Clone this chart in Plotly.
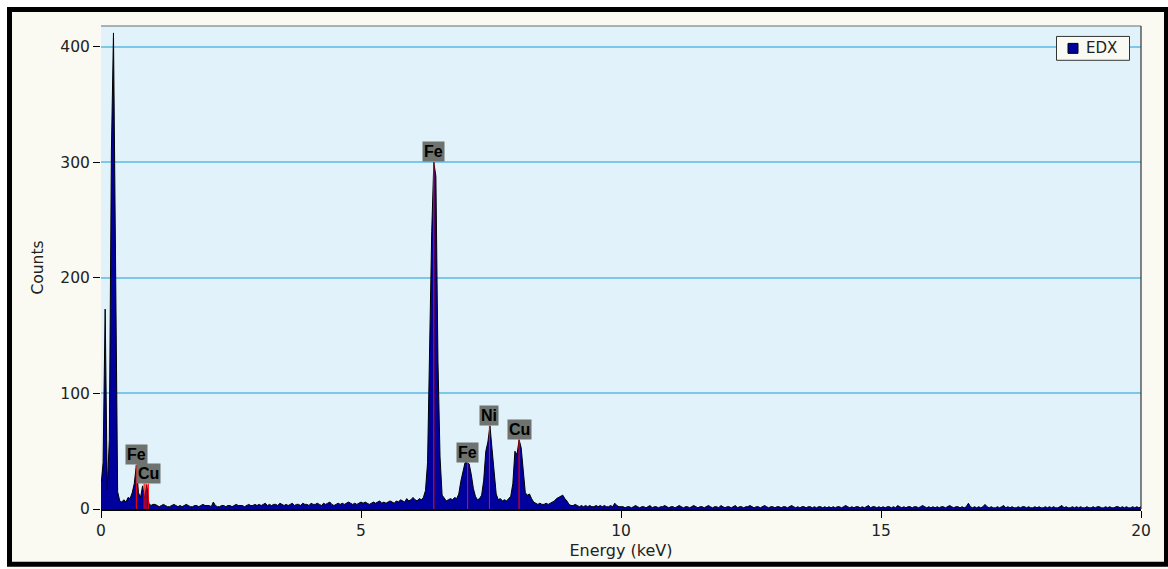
import numpy as np
import plotly.graph_objects as go

STEP = 0.04  # keV per channel

# counts, per energy segment
counts_0_1 = [20, 40, 173, 17, 60, 310, 412, 200, 15, 7, 6, 8, 6, 10, 9, 14, 22, 38, 14, 10,
              20, 9, 21, 5, 3, 4]  # 0.00 .. 1.00
counts_1_6 = [4, 3, 2, 3, 4, 3, 2, 2, 3, 4, 3, 2, 3, 2, 3, 4, 3, 2, 2, 3, 3, 2, 3, 4, 3,
              3, 3, 2, 6, 3, 2, 2, 3, 3, 2, 3, 3, 2, 3, 4, 3, 3, 3, 2, 3, 4, 3, 3, 4, 3,
              4, 3, 4, 5, 3, 4, 3, 4, 4, 3, 5, 4, 3, 4, 3, 4, 5, 3, 4, 4, 3, 5, 4, 4, 3,
              5, 4, 4, 5, 4, 3, 5, 4, 5, 6, 4, 3, 4, 5, 4, 5, 4, 5, 6, 5, 4, 5, 4, 5, 6,
              5, 6, 5, 4, 5, 6, 5, 6, 7, 5, 6, 5, 6, 7, 6, 5, 7, 6, 8, 7, 6, 9, 7, 8, 10]  # 1.04 .. 6.00
counts_6_9 = [8, 7, 9, 8, 10, 16, 40, 150, 240, 300, 288, 128, 45, 12, 9, 7, 8, 9, 8, 10,
              9, 13, 24, 33, 40, 40, 39, 30, 18, 11, 8, 9, 12, 25, 50, 58, 72, 52, 35, 13,
              8, 9, 7, 8, 7, 9, 11, 22, 50, 47, 60, 53, 32, 14, 12, 13, 9, 6, 5, 4,
              5, 4, 4, 5, 4, 5, 6, 7, 9, 10, 11, 12, 9, 7, 4, 3]  # 6.04 .. 9.04
counts_9_20 = [3, 4, 3, 2, 3, 2, 3, 2, 3, 2, 2, 3, 2, 3, 2, 3, 2, 2, 3, 2, 5, 3, 2, 2,
               2, 1, 2, 2, 1, 2, 3, 2, 1, 2, 2, 1, 2, 3, 1, 2, 2, 1, 2, 2, 3, 2, 1, 2, 2,
               1, 2, 3, 2, 1, 2, 2, 1, 2, 3, 2, 1, 2, 2, 1, 2, 3, 2, 1, 2, 2, 1, 3, 2, 1,
               2, 2, 1, 2, 3, 1, 2, 2, 1, 2, 2, 3, 2, 1, 2, 2, 1, 2, 3, 2, 1, 2, 2, 1, 2,
               2, 1, 2, 2, 1, 2, 3, 2, 1, 2, 1, 2, 2, 1, 2, 2, 1, 2, 1, 2, 2, 1, 2, 1, 2,
               1, 2, 1, 2, 2, 1, 2, 3, 2, 1, 2, 1, 2, 2, 1, 2, 1, 2, 3, 1, 2, 2, 1, 2, 1,
               2, 1, 2, 2, 1, 2, 1, 3, 2, 1, 2, 1, 2, 2, 1, 2, 2, 1, 2, 3, 2, 1, 2, 1, 2,
               1, 2, 1, 2, 2, 1, 2, 3, 2, 1, 2, 2, 1, 2, 1, 2, 5, 2, 1, 2, 1, 2, 1, 2, 4,
               2, 1, 2, 1, 1, 2, 1, 2, 3, 1, 2, 1, 2, 1, 1, 2, 1, 2, 2, 1, 2, 1, 1, 2, 1,
               2, 1, 1, 2, 1, 2, 1, 2, 1, 1, 2, 3, 1, 2, 1, 1, 2, 1, 2, 1, 2, 1, 1, 2, 1,
               1, 2, 1, 2, 2, 1, 1, 2, 1, 2, 1, 1, 2, 2, 1, 2, 1, 2, 1, 1, 2, 1, 2, 1, 2]  # 9.08 .. 20.00

segment_starts = [0.0, 1.04, 6.04, 9.08]
segments = [counts_0_1, counts_1_6, counts_6_9, counts_9_20]

# element marker lines and labels
line_energy = [0.68, 0.83, 0.865, 0.91, 6.40, 7.05, 7.47, 8.04]
line_height = [38, 22, 22, 22, 300, 40, 72, 60]
label_text = ["Fe", "Cu", "Fe", "Fe", "Ni", "Cu"]
label_energy = [0.68, 0.91, 6.40, 7.05, 7.47, 8.04]
label_height = [38, 22, 300, 40, 72, 60]

x_ticks = [0, 5, 10, 15, 20]
y_ticks = [0, 100, 200, 300, 400]
series_name = "EDX"

energy, counts = [], []
for s, c in zip(segment_starts, segments):
    energy.extend(np.round(s + STEP * np.arange(len(c)), 3).tolist())
    counts.extend(c)

FONT = "DejaVu Sans"
NAVY = "#00009C"
fig = go.Figure()
fig.add_trace(go.Scatter(x=energy, y=counts, mode="lines", fill="tozeroy", name=series_name,
                         fillcolor=NAVY, line=dict(color="black", width=1),
                         showlegend=False, hoverinfo="x+y"))

lx, ly = [], []
for e, h in zip(line_energy, line_height):
    lx += [e, e, None]
    ly += [0, h, None]
fig.add_trace(go.Scatter(x=lx, y=ly, mode="lines", line=dict(color="#FF0000", width=1.1),
                         showlegend=False, hoverinfo="skip"))

for t, e, h in zip(label_text, label_energy, label_height):
    fig.add_annotation(x=e, y=h, text="<b>%s</b>" % t, showarrow=False, yanchor="bottom",
                       xanchor="center", bgcolor="#6E7370", borderpad=1,
                       font=dict(family="Liberation Sans", size=16, color="black"))

W, H = 1168, 569
L, R, T, B = 101, 27, 26, 57
pw, ph = W - L - R, H - T - B

def px(x):
    return (x - L) / pw

def py(y):
    return (H - B - y) / ph

shapes = [
    dict(type="rect", xref="paper", yref="paper", x0=px(-5), x1=px(W + 5), y0=py(7), y1=py(-5),
         fillcolor="white", line=dict(width=0), layer="above"),
    dict(type="rect", xref="paper", yref="paper", x0=px(-5), x1=px(7), y0=py(H + 5), y1=py(-5),
         fillcolor="white", line=dict(width=0), layer="above"),
    dict(type="rect", xref="paper", yref="paper", x0=px(9.5), x1=px(1166.5), y0=py(567.5), y1=py(9.5),
         line=dict(color="black", width=5), layer="above"),
    dict(type="line", xref="paper", yref="paper", x0=0, x1=1, y0=1, y1=1,
         line=dict(color="#8C9CA4", width=1.5), layer="above"),
    dict(type="line", xref="paper", yref="paper", x0=1, x1=1, y0=0, y1=1,
         line=dict(color="#333333", width=1.2), layer="above"),
    # legend box and swatch
    dict(type="rect", xref="paper", yref="paper", x0=px(1056.5), x1=px(1129.5), y0=py(60.5), y1=py(36.5),
         fillcolor="#FAFAF5", line=dict(color="#333333", width=1), layer="above"),
    dict(type="rect", xref="paper", yref="paper", x0=px(1068), x1=px(1078), y0=py(53.5), y1=py(43.5),
         fillcolor=NAVY, line=dict(color="black", width=1), layer="above"),
]

fig.add_annotation(xref="paper", yref="paper", x=px(1084), y=py(48.5), text=series_name,
                   showarrow=False, xanchor="left", yanchor="middle",
                   font=dict(family=FONT, size=15, color="#222222"))

fig.update_layout(
    width=W, height=H,
    margin=dict(l=L, r=R, t=T, b=B),
    paper_bgcolor="#FAFAF2",
    plot_bgcolor="#E1F2FB",
    font=dict(family=FONT, size=15.5, color="#222222"),
    shapes=shapes,
    showlegend=False,
    xaxis=dict(range=[0, 20], tickvals=x_ticks, ticktext=[str(v) for v in x_ticks],
               showgrid=False, zeroline=False, showline=True, linecolor="black", linewidth=1.5,
               ticks="outside", ticklen=7, tickcolor="black", tickwidth=1,
               title=dict(text="Energy (keV)", standoff=5, font=dict(size=16))),
    yaxis=dict(range=[0, 418], tickvals=y_ticks, ticktext=[str(v) for v in y_ticks],
               showgrid=True, gridcolor="#7CC8E8", gridwidth=2, zeroline=False, showline=False,
               ticks="outside", ticklen=7, tickcolor="black", tickwidth=1,
               title=dict(text="Counts", standoff=12, font=dict(size=15.5))),
)

fig.write_html("out.html")
